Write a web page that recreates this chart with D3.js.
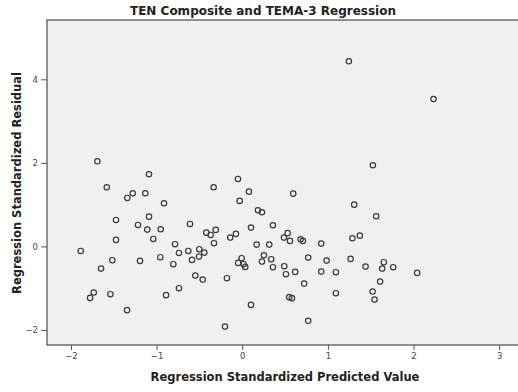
<!DOCTYPE html>
<html>
<head>
<meta charset="utf-8">
<script src="https://cdn.jsdelivr.net/npm/d3@7"></script>
<style>
  html, body { margin: 0; padding: 0; background: #ffffff; }
  svg { display: block; }
</style>
</head>
<body>
<svg id="chart" width="518" height="392"></svg>
<script>
// Regression diagnostics: standardized predicted value vs standardized residual
const predicted = [
  -1.692, -1.089, -1.582, -1.279, -1.342, -1.132, -0.334, -0.914, -1.474, -1.089,
  -1.217, -1.109, -0.952, -0.610, -0.420, -0.369, -0.310, -1.474, -1.039, -1.886,
  -0.785, -0.739, -0.630, -0.502, -0.443, -0.330, -0.505, -0.587, -1.517, -1.194,
  -0.957, -0.805, -1.649, -0.548, -0.462, -0.739, -1.734, -1.777, -1.540, -0.890,
  -1.345, 1.525, -0.050, 0.078, 0.595, -0.030, 1.307, 0.183, 0.230, 1.564,
  0.102, 0.358, -0.074, -0.140, 0.530, 0.487, 0.681, 1.286, 1.373, 0.557,
  0.708, 0.168, 0.315, 0.922, -0.007, -0.047, 0.016, 0.035, 0.253, 0.230,
  0.338, 0.358, 0.490, 0.510, 0.618, 0.770, 0.985, 0.922, 1.093, 1.265,
  1.440, 0.723, -0.179, 1.093, 1.522, 1.545, 0.548, 0.580, 0.102, 0.770,
  -0.202, 1.653, 1.634, 1.762, 2.042, 1.610, 1.245, 2.233
];
const residual = [
  2.038, 1.727, 1.416, 1.273, 1.160, 1.273, 1.416, 1.033, 0.634, 0.713,
  0.514, 0.402, 0.411, 0.538, 0.330, 0.275, 0.395, 0.156, 0.179, -0.108,
  0.053, -0.156, -0.108, -0.067, -0.148, 0.077, -0.244, -0.323, -0.330, -0.347,
  -0.258, -0.426, -0.531, -0.699, -0.794, -1.000, -1.105, -1.232, -1.144, -1.167,
  -1.526, 1.943, 1.615, 1.311, 1.263, 1.089, 1.000, 0.866, 0.818, 0.722,
  0.450, 0.507, 0.299, 0.211, 0.318, 0.211, 0.172, 0.196, 0.258, 0.132,
  0.132, 0.043, 0.043, 0.067, -0.282, -0.395, -0.426, -0.490, -0.211, -0.364,
  -0.306, -0.498, -0.474, -0.665, -0.610, -0.268, -0.340, -0.603, -0.617, -0.299,
  -0.483, -0.890, -0.761, -1.120, -1.081, -1.273, -1.215, -1.239, -1.400, -1.782,
  -1.919, -0.378, -0.531, -0.498, -0.634, -0.842, 4.431, 3.529
];
const xTicks = [-2, -1, 0, 1, 2, 3];
const yTicks = [-2, 0, 2, 4];

const titleText = "TEN Composite and TEMA-3 Regression";
const xLabel = "Regression Standardized Predicted Value";
const yLabel = "Regression Standardized Residual";

const points = predicted.map((p, i) => ({ x: p, y: residual[i] }));

const svg = d3.select("#chart");
const plot = { left: 47, top: 20, right: 530, bottom: 345 };

const x = d3.scaleLinear().domain([-2.28, 3.36]).range([plot.left, plot.right]);
const y = d3.scaleLinear().domain([-2.36, 5.42]).range([plot.bottom, plot.top]);

// plot background and frame
svg.append("rect")
  .attr("x", plot.left).attr("y", plot.top)
  .attr("width", plot.right - plot.left).attr("height", plot.bottom - plot.top)
  .attr("fill", "#f0f0f0")
  .attr("stroke", "#5a5a5a")
  .attr("stroke-width", 1.3);

// axes
const xAxis = svg.append("g")
  .attr("transform", `translate(0,${plot.bottom})`)
  .call(d3.axisBottom(x).tickValues(xTicks).tickSize(5).tickPadding(3).tickFormat(d3.format("d")));
const yAxis = svg.append("g")
  .attr("transform", `translate(${plot.left},0)`)
  .call(d3.axisLeft(y).tickValues(yTicks).tickSize(6).tickPadding(3).tickFormat(d3.format("d")));

[xAxis, yAxis].forEach(g => {
  g.select(".domain").remove();
  g.selectAll(".tick line").attr("stroke", "#555").attr("stroke-width", 1);
  g.selectAll(".tick text")
    .attr("fill", "#444")
    .style("font-family", "'DejaVu Sans', sans-serif")
    .style("font-size", "8.5px");
});

// data points
svg.append("g")
  .selectAll("circle")
  .data(points)
  .enter().append("circle")
  .attr("cx", d => x(d.x))
  .attr("cy", d => y(d.y))
  .attr("r", 2.7)
  .attr("fill", "none")
  .attr("stroke", "#3a3a3a")
  .attr("stroke-width", 1.2);

// titles
svg.append("text")
  .attr("x", 263).attr("y", 15)
  .attr("text-anchor", "middle")
  .style("font-family", "'DejaVu Sans', sans-serif")
  .style("font-weight", "bold")
  .style("font-size", "12px")
  .attr("fill", "#222")
  .text(titleText);

svg.append("text")
  .attr("x", 285).attr("y", 381)
  .attr("text-anchor", "middle")
  .style("font-family", "'DejaVu Sans', sans-serif")
  .style("font-weight", "bold")
  .style("font-size", "11.5px")
  .attr("fill", "#222")
  .text(xLabel);

svg.append("text")
  .attr("transform", "translate(21,183) rotate(-90)")
  .attr("text-anchor", "middle")
  .style("font-family", "'DejaVu Sans', sans-serif")
  .style("font-weight", "bold")
  .style("font-size", "11.5px")
  .attr("fill", "#222")
  .text(yLabel);
</script>
</body>
</html>
